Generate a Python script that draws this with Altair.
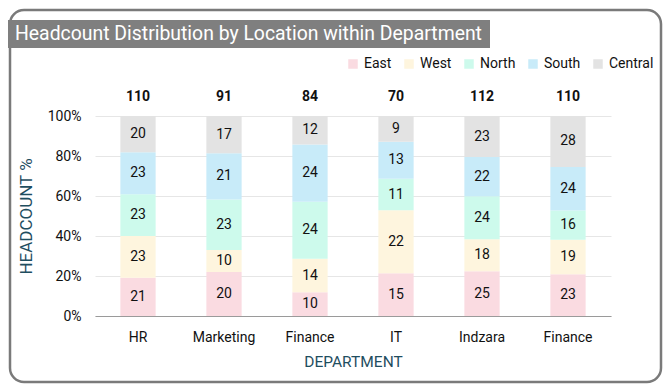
import altair as alt
import pandas as pd

departments = ["HR", "Marketing", "Finance", "IT", "Indzara", "Finance"]
locations = ["East", "West", "North", "South", "Central"]
east = [21, 20, 10, 15, 25, 23]
west = [23, 10, 14, 22, 18, 19]
north = [23, 23, 24, 11, 24, 16]
south = [23, 21, 24, 13, 22, 24]
central = [20, 17, 12, 9, 23, 28]
colors = ["#FADBE1", "#FEF5DE", "#CDFAEC", "#C8EBF9", "#E3E3E3"]
y_ticks = [0, 0.2, 0.4, 0.6, 0.8, 1.0]

series = [east, west, north, south, central]
rows = []
for li, (loc, vals) in enumerate(zip(locations, series)):
    for di, v in enumerate(vals):
        rows.append({"dept_id": di, "location": loc, "order": li, "value": v})
df = pd.DataFrame(rows)

totals = pd.DataFrame({
    "dept_id": list(range(len(departments))),
    "total": [sum(s[i] for s in series) for i in range(len(departments))],
})

label_expr = "[" + ",".join("'" + d + "'" for d in departments) + "][datum.value]"
FONT = "Roboto"
TEAL = "#1F4E5F"

x_scale = alt.Scale(paddingInner=0.59, paddingOuter=0.295)
x_axis = alt.Axis(
    labelExpr=label_expr, labelAngle=0, ticks=False, domainColor="#9A9A9A",
    labelFontSize=14, labelColor="#111", labelPadding=14, labelFont=FONT,
    title="DEPARTMENT", titleColor=TEAL, titleFontSize=15.5, titleFontWeight="normal",
    titleFont=FONT, titlePadding=10, grid=False,
)
y_scale = alt.Scale(domain=[0, 1], nice=False)
y_axis = alt.Axis(
    format=".0%", values=y_ticks, domain=False, ticks=False, labelOverlap=False,
    gridColor="#E6E6E6", labelFontSize=14, labelColor="#111", labelPadding=14,
    labelFont=FONT, title="HEADCOUNT %", titleColor=TEAL, titleFontSize=17,
    titleFontWeight="normal", titleFont=FONT, titlePadding=12,
)

base = alt.Chart(df).transform_joinaggregate(
    total="sum(value)", groupby=["dept_id"]
).transform_calculate(
    pct="datum.value / datum.total"
).transform_window(
    cum="sum(pct)", groupby=["dept_id"], sort=[alt.SortField("order")], frame=[None, 0]
).transform_calculate(
    start="datum.cum - datum.pct", mid="datum.cum - datum.pct / 2"
)

bars = base.mark_bar().encode(
    x=alt.X("dept_id:O", scale=x_scale, axis=x_axis),
    y=alt.Y("start:Q", scale=y_scale, axis=y_axis),
    y2="cum:Q",
    color=alt.Color(
        "location:N",
        scale=alt.Scale(domain=locations, range=colors),
        legend=alt.Legend(
            title=None, orient="none", direction="horizontal", legendX=251, legendY=-59,
            symbolType="square", symbolSize=90, symbolStrokeWidth=0, labelFontSize=14,
            labelFont=FONT, labelColor="#111", columnPadding=10, labelOffset=4,
        ),
    ),
)

labels = base.mark_text(fontSize=14, font=FONT, color="#111").encode(
    x=alt.X("dept_id:O", scale=x_scale, axis=x_axis),
    y=alt.Y("mid:Q", scale=y_scale, axis=y_axis),
    text="value:Q",
)

tot = alt.Chart(totals).mark_text(fontSize=14, font=FONT, fontWeight="bold", color="#111", dy=-19).encode(
    x=alt.X("dept_id:O", scale=x_scale, axis=x_axis),
    y=alt.datum(1, scale=y_scale, axis=y_axis),
    text="total:Q",
)

frame_df = pd.DataFrame({"t": ["Headcount Distribution by Location within Department"]})
frame = alt.Chart(frame_df).mark_rect(
    fill="transparent", stroke="#7A7A7A", strokeWidth=2.5, cornerRadius=14
).encode(
    x=alt.value(-85), x2=alt.value(566), y=alt.value(-106), y2=alt.value(266)
)
title_box = alt.Chart(frame_df).mark_rect(fill="#7F7F7F").encode(
    x=alt.value(-87), x2=alt.value(395), y=alt.value(-96), y2=alt.value(-68)
)
title_text = alt.Chart(frame_df).mark_text(
    fontSize=19.4, font=FONT, color="white", align="left", baseline="middle"
).encode(
    x=alt.value(-80), y=alt.value(-82), text="t:N"
)

chart = alt.layer(frame, title_box, title_text, bars, labels, tot).properties(
    width=516, height=200,
    autosize=alt.AutoSizeParams(type="none"),
    padding={"left": 87, "top": 108, "right": 53, "bottom": 68},
    background="white",
).configure_view(stroke=None)

chart.save("out.html", embed_options={"renderer": "svg", "actions": False})
